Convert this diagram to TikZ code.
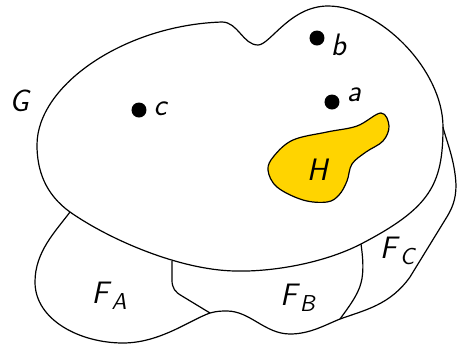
\documentclass[tikz,border=0pt]{standalone}
\definecolor{hyellow}{RGB}{255,212,0}
\newcommand\sfi[1]{\textsf{\textit{#1}}}
\newcommand\subl[1]{\raisebox{-0.45ex}{\fontsize{11.5}{12}\selectfont\sfi{#1}}}
\begin{document}
\begin{tikzpicture}[x=0.5pt,y=-0.5pt,
  outline/.style={draw=black,line width=0.6pt},
  dotmark/.style={circle,fill=black,inner sep=0pt,minimum size=7.5pt},
  lab/.style={font=\fontsize{15.5}{18}\selectfont,inner sep=0pt}]
\useasboundingbox (0,0) rectangle (457,344);
% junction coordinates
\coordinate (jA) at (70,212);
\coordinate (jAB) at (172,261);
\coordinate (jBC) at (361,244);
\coordinate (jC) at (443,127);
\coordinate (kAB) at (210,313);
\coordinate (kBC) at (340,319);
% G
\draw[outline] (37,145) .. controls (37,85) and (125,25) .. (222,22)
  .. controls (238,22) and (243,45) .. (258,45)
  .. controls (270,45) and (290,6) .. (328,6)
  .. controls (380,6) and (443,70) .. (jC)
  .. controls (443,185) and (430,208) .. (jBC)
  .. controls (322,264) and (270,272) .. (235,271)
  .. controls (180,270) and (110,240) .. (jA)
  .. controls (45,194) and (37,170) .. (37,145) -- cycle;
% F outer boundary
\draw[outline] (jA) .. controls (55,232) and (35,252) .. (35,282)
  .. controls (35,320) and (80,343) .. (123,343)
  .. controls (160,343) and (190,320) .. (kAB)
  .. controls (217,311) and (222,311) .. (227,311)
  .. controls (250,311) and (265,334) .. (290,334)
  .. controls (310,334) and (325,325) .. (kBC)
  .. controls (365,310) and (390,305) .. (410,277)
  -- (445,220)
  .. controls (452,209) and (456,200) .. (456,185)
  .. controls (455,160) and (446,140) .. (jC);
% dividers
\draw[outline] (jAB) -- (172,280) .. controls (172,288) and (175,292) .. (182,296) -- (kAB);
\draw[outline] (jBC) .. controls (363,258) and (364,272) .. (361,283) .. controls (358,295) and (348,308) .. (kBC);
% H
\draw[outline,fill=hyellow] plot[smooth cycle,tension=0.6] coordinates{
 (381,113) (389,126) (383,141) (366,152) (352,164) (347,181) (339,195) (327,202)
 (303,200) (277,187) (268,170) (274,156) (293,140) (327,132) (357,126)};
% dots
\node[dotmark] (c) at (139,110) {};
\node[dotmark] (b) at (317,38) {};
\node[dotmark] (a) at (332,102) {};
\node[lab] (lc) at (161,109) {\sfi{c}};
\node[lab] (lb) at (339,45) {\sfi{b}};
\node[lab] (la) at (354,95) {\sfi{a}};
\node[lab] (lG) at (20,101) {\sfi{G}};
\node[lab] (lH) at (318,170) {\sfi{H}};
\node[lab] (lFA) at (109,296) {\sfi{F}\subl{A}};
\node[lab] (lFB) at (298,298) {\sfi{F}\subl{B}};
\node[lab] (lFC) at (398,251) {\sfi{F}\subl{C}};
\end{tikzpicture}
\end{document}
